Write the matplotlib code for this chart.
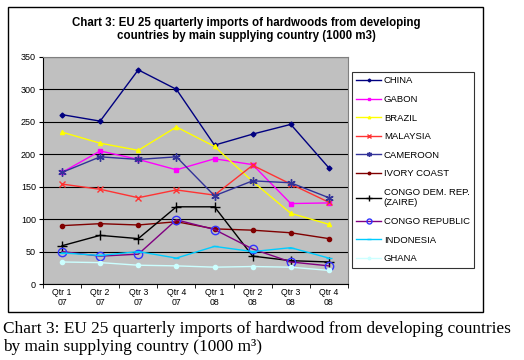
import matplotlib
matplotlib.use("Agg")
import matplotlib.pyplot as plt
from matplotlib.patches import Rectangle

quarters = ["Qtr 1\n07", "Qtr 2\n07", "Qtr 3\n07", "Qtr 4\n07",
            "Qtr 1\n08", "Qtr 2\n08", "Qtr 3\n08", "Qtr 4\n08"]

china = [261, 251, 330, 300, 214, 231, 246, 179]
gabon = [172, 205, 192, 176, 193, 184, 124, 125]
brazil = [234, 217, 206, 242, 212, 158, 109, 92]
malaysia = [154, 146, 133, 145, 137, 183, 154, 126]
cameroon = [172, 196, 192, 196, 136, 159, 156, 133]
ivory_coast = [90, 93, 91, 96, 85, 83, 79, 70]
congo_drc = [59, 75, 70, 119, 119, 43, 36, 34]
congo_rep = [50, 43, 46, 99, 84, 54, 34, 28]
indonesia = [48, 44, 50, 40, 58, 50, 56, 40]
ghana = [34, 33, 29, 28, 26, 27, 26, 21]

series = [
    ("CHINA", china, "#000080", "D", "#000080", 2.5),
    ("GABON", gabon, "#FF00FF", "s", "#FF00FF", 3.5),
    ("BRAZIL", brazil, "#FFFF00", "^", "#FFFF00", 3),
    ("MALAYSIA", malaysia, "#FF3333", "x", "#FF3333", 5),
    ("CAMEROON", cameroon, "#333399", (6, 2, 0), "#333399", 6),
    ("IVORY COAST", ivory_coast, "#800000", "o", "#800000", 3),
    ("CONGO DEM. REP.\n(ZAIRE)", congo_drc, "#000000", "+", "#000000", 7),
    ("CONGO REPUBLIC", congo_rep, "#800080", "o", "#3333FF", 6),
    ("INDONESIA", indonesia, "#00CCFF", "_", "#00CCFF", 5),
    ("GHANA", ghana, "#CCFFFF", "o", "#CCFFFF", 3),
]

plt.rcParams["font.family"] = ["Liberation Sans", "DejaVu Sans"]

fig = plt.figure(figsize=(5.24, 3.6), dpi=100)
fig.patches.append(Rectangle((8 / 524, 1 - 312 / 360), 475 / 524, 305 / 360,
                             transform=fig.transFigure, fill=False,
                             edgecolor="black", linewidth=1))

ax = fig.add_axes([0.082, 0.211, 0.582, 0.631])
ax.set_facecolor("#C0C0C0")
x = range(len(quarters))
for name, vals, col, mk, mcol, ms in series:
    if name == "CONGO REPUBLIC":
        ax.plot(x, vals, color=col, lw=1, marker=mk, ms=ms,
                markerfacecolor="none", markeredgecolor=mcol, label=name)
    else:
        ax.plot(x, vals, color=col, lw=1, marker=mk, ms=ms,
                markerfacecolor=mcol, markeredgecolor=mcol, label=name)

ax.set_xlim(-0.5, 7.5)
ax.set_ylim(0, 350)
ax.set_yticks(range(0, 351, 50))
ax.set_xticks(list(x))
ax.set_xticklabels(quarters, fontsize=6.3, linespacing=1.1)
ax.set_xticks([i - 0.5 for i in range(9)], minor=True)
ax.tick_params(axis="x", which="major", length=0, pad=3)
ax.tick_params(axis="x", which="minor", length=3, direction="out")
ax.tick_params(axis="y", labelsize=6.5, length=3, pad=2)
ax.grid(axis="y", color="black", lw=0.8)
ax.set_axisbelow(True)
for s in ["top", "right"]:
    ax.spines[s].set_color("#808080")
ax.spines["left"].set_color("black")
ax.spines["bottom"].set_color("black")

leg = fig.legend(loc="upper left", bbox_to_anchor=(0.672, 0.8),
                 borderaxespad=0, fontsize=6.8, frameon=True, fancybox=False,
                 edgecolor="black", handlelength=2.6, labelspacing=1.02,
                 borderpad=0.45, handletextpad=0.3, markerscale=0.6)
leg.get_frame().set_linewidth(0.8)

fig.text(0.47, 0.919, "Chart 3: EU 25 quarterly imports of hardwoods from developing\n"
         "countries by main supplying country (1000 m3)",
         ha="center", va="center", fontsize=8.3, fontweight="bold", linespacing=1.1)

fig.text(0.006, 0.061, "Chart 3: EU 25 quarterly imports of hardwood from developing countries\n"
         "by main supplying country (1000 m\u00b3)",
         ha="left", va="center", fontsize=12.4, family=["Liberation Serif", "DejaVu Serif"],
         linespacing=1.1)

fig.savefig("out.png", dpi=100)
